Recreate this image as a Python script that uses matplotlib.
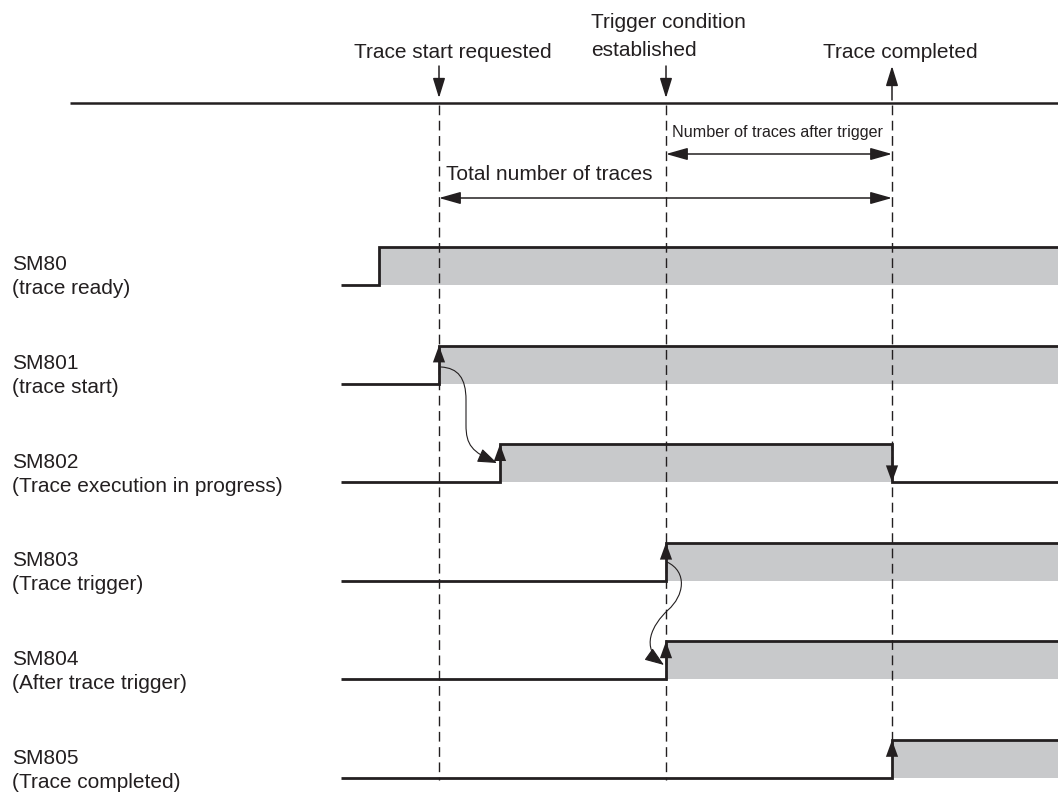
import matplotlib.pyplot as plt
from matplotlib.path import Path
from matplotlib.patches import FancyArrowPatch

plt.rcParams['font.family'] = ['Liberation Sans', 'DejaVu Sans']

# signal rows
signals = ['SM80', 'SM801', 'SM802', 'SM803', 'SM804', 'SM805']
descriptions = ['(trace ready)', '(trace start)', '(Trace execution in progress)',
                '(Trace trigger)', '(After trace trigger)', '(Trace completed)']
rise_t = [379, 439, 500, 666, 666, 892]
fall_t = [None, None, 892, None, None, None]
edge_arrow = [False, True, True, True, True, True]

# events on the time line
t_start = 439
t_trigger = 666
t_complete = 892
t_begin = 341
t_end = 1058

ink = '#231f20'
fill = '#c8c9cb'

fig = plt.figure(figsize=(10.58, 7.94), dpi=100)
ax = fig.add_axes([0, 0, 1, 1])
ax.set_xlim(0, 1058)
ax.set_ylim(794, 0)
ax.axis('off')

# top time line
line_y = 103
ax.plot([70, t_end], [line_y, line_y], color=ink, lw=1.8, solid_capstyle='butt')

# event labels
ax.text(453, 52, 'Trace start requested', fontsize=15, color=ink, ha='center', va='center')
ax.text(591, 22, 'Trigger condition', fontsize=15, color=ink, ha='left', va='center')
ax.text(591, 51, 'established', fontsize=15, color=ink, ha='left', va='center')
ax.text(900, 52, 'Trace completed', fontsize=15, color=ink, ha='center', va='center')

arrow_kw = dict(arrowstyle='-|>,head_length=0.55,head_width=0.17', mutation_scale=22,
                color=ink, lw=1.1, shrinkA=0, shrinkB=0)
ax.annotate('', xy=(t_start, 98), xytext=(t_start, 66), arrowprops=arrow_kw)
ax.annotate('', xy=(t_trigger, 98), xytext=(t_trigger, 66), arrowprops=arrow_kw)
ax.annotate('', xy=(t_complete, 66), xytext=(t_complete, 100), arrowprops=arrow_kw)

# dashed guides
dash = dict(color=ink, lw=1.0, dashes=(7, 4))
ax.plot([t_start, t_start], [line_y + 2, 780], **dash)
ax.plot([t_trigger, t_trigger], [line_y + 2, 780], **dash)
ax.plot([t_complete, t_complete], [line_y + 2, 740], **dash)

# span arrows
span_kw = dict(arrowstyle='<|-|>,head_length=0.6,head_width=0.17', mutation_scale=22,
               color=ink, lw=1.1, shrinkA=0, shrinkB=0)
ax.annotate('', xy=(t_complete, 154), xytext=(t_trigger, 154), arrowprops=span_kw)
ax.text(672, 133, 'Number of traces after trigger', fontsize=11.6, color=ink,
        ha='left', va='center')
ax.annotate('', xy=(t_complete, 198), xytext=(t_start, 198), arrowprops=span_kw)
ax.text(446, 175, 'Total number of traces', fontsize=15, color=ink, ha='left', va='center')

# waveforms
row_h = 38
head = dict(arrowstyle='-|>,head_length=0.55,head_width=0.2', mutation_scale=22,
            color=ink, lw=0, shrinkA=0, shrinkB=0)
for i, name in enumerate(signals):
    hi = 247 + 98.6 * i
    lo = hi + row_h
    r = rise_t[i]
    f = fall_t[i] if fall_t[i] is not None else t_end
    ax.fill_between([r, f], hi, lo, color=fill, lw=0)
    xs = [t_begin, r, r, f]
    ys = [lo, lo, hi, hi]
    if fall_t[i] is not None:
        xs += [f, t_end]
        ys += [lo, lo]
    ax.plot(xs, ys, color=ink, lw=2.0, solid_joinstyle='miter', solid_capstyle='butt')
    if edge_arrow[i]:
        ax.annotate('', xy=(r, hi), xytext=(r, hi + 20), arrowprops=head)
    if fall_t[i] is not None:
        ax.annotate('', xy=(f, lo), xytext=(f, lo - 20), arrowprops=head)
    ax.text(12, (hi + lo) / 2 - 1, name, fontsize=15, color=ink, ha='left', va='center')
    ax.text(12, (hi + lo) / 2 + 23, descriptions[i], fontsize=15, color=ink,
            ha='left', va='center')

# causal links
curve1 = Path([(441, 367), (458, 368), (466, 378), (466, 400),
               (466, 425), (466, 445), (472, 452), (497, 463)],
              [Path.MOVETO, Path.CURVE4, Path.CURVE4, Path.CURVE4,
               Path.LINETO, Path.CURVE4, Path.CURVE4, Path.CURVE4])
curve2 = Path([(667, 562), (688, 572), (684, 596), (668, 610),
               (652, 625), (640, 648), (664, 665)],
              [Path.MOVETO, Path.CURVE4, Path.CURVE4, Path.CURVE4,
               Path.CURVE4, Path.CURVE4, Path.CURVE4])
for p in (curve1, curve2):
    ax.add_patch(FancyArrowPatch(path=p, arrowstyle='-|>,head_length=0.6,head_width=0.22',
                                 mutation_scale=20, color=ink, lw=0.8))

fig.savefig('out.png', dpi=100)
